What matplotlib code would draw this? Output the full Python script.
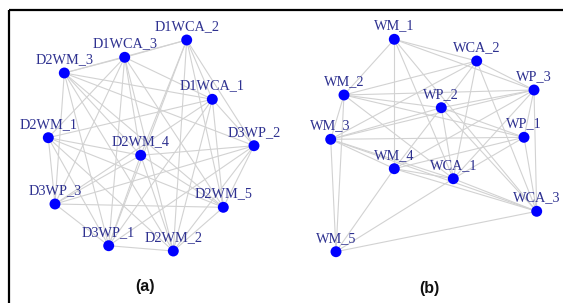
import matplotlib
matplotlib.use("Agg")
import matplotlib.pyplot as plt

# ---------------- data ----------------
a_names = ["D1WCA_2", "D1WCA_3", "D2WM_3", "D1WCA_1", "D2WM_1", "D3WP_2",
           "D2WM_4", "D3WP_3", "D2WM_5", "D3WP_1", "D2WM_2"]
a_x = [186.7, 124.7, 64.3, 212.3, 48.3, 254.0, 140.7, 55.0, 223.3, 108.7, 173.3]
a_y = [40.0, 57.3, 73.0, 99.3, 137.7, 145.7, 155.3, 204.0, 207.3, 245.7, 251.0]
a_missing = [("D1WCA_2", "D2WM_1"), ("D1WCA_2", "D3WP_3"), ("D2WM_1", "D3WP_2"),
             ("D3WP_3", "D2WM_2"), ("D1WCA_3", "D3WP_2"), ("D2WM_3", "D2WM_1"),
             ("D3WP_1", "D2WM_5"), ("D1WCA_1", "D2WM_4")]

b_names = ["WM_1", "WCA_2", "WP_3", "WM_2", "WP_2", "WM_3", "WP_1", "WM_4",
           "WCA_1", "WCA_3", "WM_5"]
b_x = [394.3, 476.7, 534.0, 344.0, 441.3, 330.7, 524.0, 394.3, 453.3, 536.7, 336.0]
b_y = [39.3, 61.0, 90.0, 95.0, 107.7, 139.3, 137.3, 168.7, 178.7, 211.3, 251.7]
b_edges = [
    ("WM_1", "WM_2"), ("WM_1", "WM_4"), ("WM_1", "WCA_2"), ("WM_1", "WP_3"),
    ("WM_1", "WCA_1"), ("WM_1", "WCA_3"),
    ("WCA_2", "WP_3"), ("WCA_2", "WM_2"), ("WCA_2", "WM_3"), ("WCA_2", "WCA_1"),
    ("WCA_2", "WCA_3"), ("WCA_2", "WP_2"),
    ("WP_3", "WM_2"), ("WP_3", "WP_2"), ("WP_3", "WM_3"), ("WP_3", "WP_1"),
    ("WP_3", "WCA_3"), ("WP_3", "WM_4"), ("WP_3", "WCA_1"),
    ("WM_2", "WP_2"), ("WM_2", "WP_1"), ("WM_2", "WM_3"), ("WM_2", "WM_5"),
    ("WM_2", "WCA_1"),
    ("WP_2", "WM_3"), ("WP_2", "WM_4"), ("WP_2", "WCA_1"), ("WP_2", "WP_1"),
    ("WP_2", "WCA_3"),
    ("WM_3", "WP_1"), ("WM_3", "WM_4"), ("WM_3", "WCA_1"), ("WM_3", "WCA_3"),
    ("WM_3", "WM_5"),
    ("WP_1", "WCA_3"), ("WP_1", "WCA_1"), ("WP_1", "WM_4"),
    ("WM_4", "WCA_1"), ("WM_4", "WCA_3"), ("WM_4", "WM_5"),
    ("WCA_1", "WM_5"), ("WCA_1", "WCA_3"), ("WCA_3", "WM_5"),
]

panel_labels = ["(a)", "(b)"]
panel_x = [145, 429]
panel_y = [286, 288]

# ---------------- figure ----------------
W, H = 563, 303
fig = plt.figure(figsize=(W / 100, H / 100), dpi=100)
ax = fig.add_axes([0, 0, 1, 1])
ax.set_xlim(0, W)
ax.set_ylim(H, 0)
ax.axis("off")

# partial frame (top and left)
ax.plot([8.5, W + 5], [9.5, 9.5], color="black", lw=1.6, solid_capstyle="butt")
ax.plot([8.5, 8.5], [9.5, H + 5], color="black", lw=1.6, solid_capstyle="butt")

edge_col = "#d2d2d2"
label_col = "#2e3190"

# panel a edges: almost complete graph
a_pos = {n: (x, y) for n, x, y in zip(a_names, a_x, a_y)}
miss = set(frozenset(e) for e in a_missing)
for i in range(len(a_names)):
    for j in range(i + 1, len(a_names)):
        if frozenset((a_names[i], a_names[j])) in miss:
            continue
        p, q = a_pos[a_names[i]], a_pos[a_names[j]]
        ax.plot([p[0], q[0]], [p[1], q[1]], color=edge_col, lw=0.8, zorder=1)

b_pos = {n: (x, y) for n, x, y in zip(b_names, b_x, b_y)}
for u, v in b_edges:
    p, q = b_pos[u], b_pos[v]
    ax.plot([p[0], q[0]], [p[1], q[1]], color=edge_col, lw=0.8, zorder=1)

for names, xs, ys in [(a_names, a_x, a_y), (b_names, b_x, b_y)]:
    ax.scatter(xs, ys, s=62, color="#0000ff", edgecolors="none", zorder=3)
    for n, x, y in zip(names, xs, ys):
        ax.text(x, y - 7, n, ha="center", va="bottom", fontsize=10.3,
                family="Liberation Serif", color=label_col, zorder=4)

for t, x, y in zip(panel_labels, panel_x, panel_y):
    ax.text(x, y, t, ha="center", va="center", fontsize=11.5,
            family="Liberation Sans", fontweight="bold", color="#111111")

fig.savefig("out.png", dpi=100, facecolor="white")
